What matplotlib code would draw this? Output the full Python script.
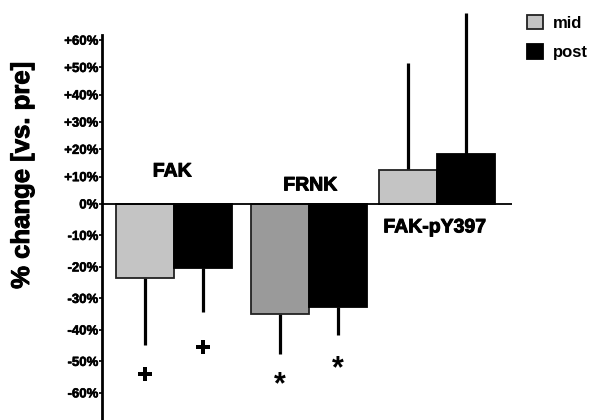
import numpy as np
import matplotlib
matplotlib.use("Agg")
import matplotlib.pyplot as plt
from matplotlib.patches import Patch
import matplotlib.patheffects as pe

# ---- data ----
categories = ["FAK", "FRNK", "FAK-pY397"]
mid_values = [-23.5, -34.9, 12.5]
post_values = [-20.3, -32.7, 18.3]
mid_err = [21.3, 12.7, 39.1]
post_err = [14.0, 8.9, 51.7]
mid_colors = ["#c4c4c4", "#9a9a9a", "#c4c4c4"]
post_color = "#000000"
tick_values = [60, 50, 40, 30, 20, 10, 0, -10, -20, -30, -40, -50, -60]
tick_labels = ["+60%", "+50%", "+40%", "+30%", "+20%", "+10%", "0%",
               "-10%", "-20%", "-30%", "-40%", "-50%", "-60%"]
# significance marks: (category index, series, symbol, y)
sig_marks = [(0, "mid", "+", -54.0), (0, "post", "+", -45.4),
             (1, "mid", "*", -57.6), (1, "post", "*", -52.5)]

# ---- layout ----
group_centers = np.array([1.22, 3.51, 5.68])
bar_w = 0.98
label_pos = [(1.19, 11.7), (3.53, 6.6), (5.64, -7.6)]

plt.rcParams['font.family'] = ['Liberation Sans', 'DejaVu Sans']
plt.rcParams['font.weight'] = 'bold'
heavy = [pe.withStroke(linewidth=0.7, foreground='black')]

fig = plt.figure(figsize=(5.97, 4.2), dpi=100)
ax = fig.add_axes([102/597, 0.0, 410/597, 1 - 35/420])

a = 27.3 / 31.5
def fwd(y):
    y = np.asarray(y, dtype=float)
    return np.where(y >= 0, y * a, y)
def inv(y):
    y = np.asarray(y, dtype=float)
    return np.where(y >= 0, y / a, y)
ax.set_yscale('function', functions=(fwd, inv))
ax.set_ylim(-68.6, 61.9)
ax.set_xlim(0, 410/59)

mid_x = group_centers - bar_w/2
post_x = group_centers + bar_w/2
ax.bar(mid_x, mid_values, width=bar_w, color=mid_colors, edgecolor="#222222",
       linewidth=1.3, zorder=3)
ax.bar(post_x, post_values, width=bar_w, color=post_color, edgecolor="#000000",
       linewidth=1.3, zorder=3)

for xs, vals, errs in [(mid_x, mid_values, mid_err), (post_x, post_values, post_err)]:
    for x, v, e in zip(xs, vals, errs):
        end = v - e if v < 0 else v + e
        ax.plot([x, x], [v, end], color="black", lw=2.3, solid_capstyle='butt',
                zorder=2, clip_on=False)

for (ci, series, sym, y) in sig_marks:
    x = mid_x[ci] if series == "mid" else post_x[ci]
    if sym == "+":
        ax.plot([x], [y], marker='P', markersize=10, color='black',
                markeredgewidth=0, clip_on=False)
    else:
        ax.text(x, y, "*", fontsize=22, fontweight='bold', ha='center',
                va='center', clip_on=False)

for name, (lx, ly) in zip(categories, label_pos):
    ax.text(lx, ly, name, fontsize=14, fontweight='bold', ha='center',
            va='center', path_effects=heavy)

ax.axhline(0, color='black', lw=1.3, zorder=4)
for s in ['top', 'right', 'bottom']:
    ax.spines[s].set_visible(False)
ax.spines['left'].set_linewidth(2.0)
ax.set_xticks([])
ax.set_yticks(tick_values)
ax.set_yticklabels(tick_labels, fontsize=9.5, fontweight='bold')
for t in ax.get_yticklabels():
    t.set_path_effects([pe.withStroke(linewidth=0.4, foreground='black')])
ax.tick_params(axis='y', length=2.5, width=1.2, pad=0)

fig.text(22/597, 1 - 175/420, "% change [vs. pre]", rotation=90, fontsize=18.5,
         fontweight='bold', ha='center', va='center', path_effects=heavy)

handles = [Patch(facecolor="#c4c4c4", edgecolor="#222222", lw=1.3),
           Patch(facecolor="black", edgecolor="black", lw=1.3)]
leg = fig.legend(handles, ["mid", "post"], loc='upper left',
                 bbox_to_anchor=(522/597, 1 - 10/420), frameon=False, fontsize=12,
                 handlelength=0.95, handleheight=0.95, handletextpad=0.6,
                 labelspacing=0.8, borderaxespad=0, borderpad=0.3)

fig.savefig("out.png", dpi=100)
